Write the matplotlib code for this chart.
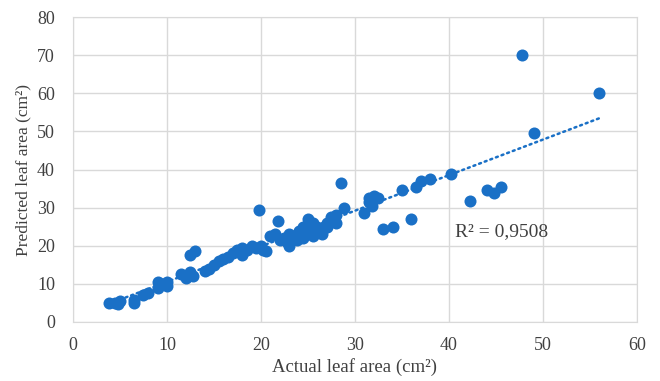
import numpy as np
import matplotlib
matplotlib.use("Agg")
from matplotlib import pyplot

# actual vs predicted leaf area (cm2)
actual = [3.8, 4.5, 4.8, 5.0, 6.5, 6.5, 7.5, 8.0, 9.0, 9.0, 9.5, 10.0, 10.0,
          11.5, 12.0, 12.5, 12.5, 13.0, 12.8, 14.0, 14.5, 15.0, 15.5, 16.0,
          16.5, 17.0, 17.5, 18.0, 18.0, 18.5, 19.0, 19.5, 19.8, 20.0, 20.5,
          21.0, 21.5, 21.8, 22.0, 22.5, 23.0, 23.0, 23.5, 24.0, 24.0, 24.5,
          24.5, 25.0, 25.0, 25.5, 25.5, 26.0, 26.0, 27.0, 27.5, 28.0, 28.5,
          28.8, 27.0, 28.0, 22.8, 23.8, 26.5, 20.2,
          31.0, 31.5, 31.5, 32.0, 31.8, 32.5, 33.0, 34.0, 35.0, 36.0, 36.5,
          37.0, 38.0, 40.2, 42.2, 44.0, 44.8, 45.5, 47.8, 49.0, 56.0]
predicted = [5.0, 5.0, 4.8, 5.5, 5.0, 5.8, 7.0, 7.5, 10.5, 9.0, 10.0, 9.5, 10.5,
             12.5, 11.5, 13.0, 17.5, 18.5, 12.0, 13.5, 14.0, 15.0, 16.0, 16.5,
             17.0, 18.0, 19.0, 17.5, 19.5, 19.0, 20.0, 19.5, 29.5, 20.0, 18.5,
             22.5, 23.0, 26.5, 21.5, 22.0, 23.0, 20.0, 22.5, 24.0, 23.5, 25.0,
             22.0, 24.0, 27.0, 26.0, 22.5, 25.0, 24.0, 26.0, 27.5, 28.0, 36.5,
             30.0, 25.0, 26.0, 21.0, 21.5, 23.0, 19.0,
             28.5, 32.5, 31.5, 33.0, 30.5, 32.5, 24.5, 25.0, 34.5, 27.0, 35.5,
             37.0, 37.5, 38.7, 31.7, 34.5, 33.8, 35.5, 70.0, 49.5, 60.0]
r2_label = "R\u00b2 = 0,9508"

blue = "#1a70c6"
textcol = "#404040"
pyplot.rcParams["font.family"] = ["Liberation Serif", "DejaVu Serif"]

fig = pyplot.figure(figsize=(6.6, 3.81), dpi=100)
ax = fig.add_axes([0.1106, 0.155, 0.8544, 0.8])

ax.scatter(actual, predicted, s=75, color=blue, zorder=3, linewidths=0)

# linear trend line
x = np.array(actual)
k, b = np.polyfit(x, np.array(predicted), 1)
xs = np.array([x.min(), x.max()])
ax.plot(xs, k*xs+b, color=blue, linewidth=1.8, linestyle=(0, (0.8, 1.6)),
        dash_capstyle="round", zorder=4)

ax.text(40.6, 23.6, r2_label, fontsize=14, color=textcol, va="center", ha="left")

ax.set_xlim(0, 60)
ax.set_ylim(0, 80)
ax.set_xticks(range(0, 61, 10))
ax.set_yticks(range(0, 81, 10))
ax.grid(True, color="#d9d9d9", linewidth=1)
ax.set_axisbelow(True)
for s in ax.spines.values():
    s.set_color("#d9d9d9")
ax.tick_params(length=0, labelsize=13, colors=textcol)
ax.tick_params(axis="x", pad=11)
ax.tick_params(axis="y", pad=13)
ax.set_xlabel("Actual leaf area (cm\u00b2)", fontsize=13.5, color=textcol, labelpad=3)
ax.set_ylabel("Predicted leaf area (cm\u00b2)", fontsize=12.5, color=textcol, labelpad=4)

pyplot.savefig("out.png", dpi=100)
